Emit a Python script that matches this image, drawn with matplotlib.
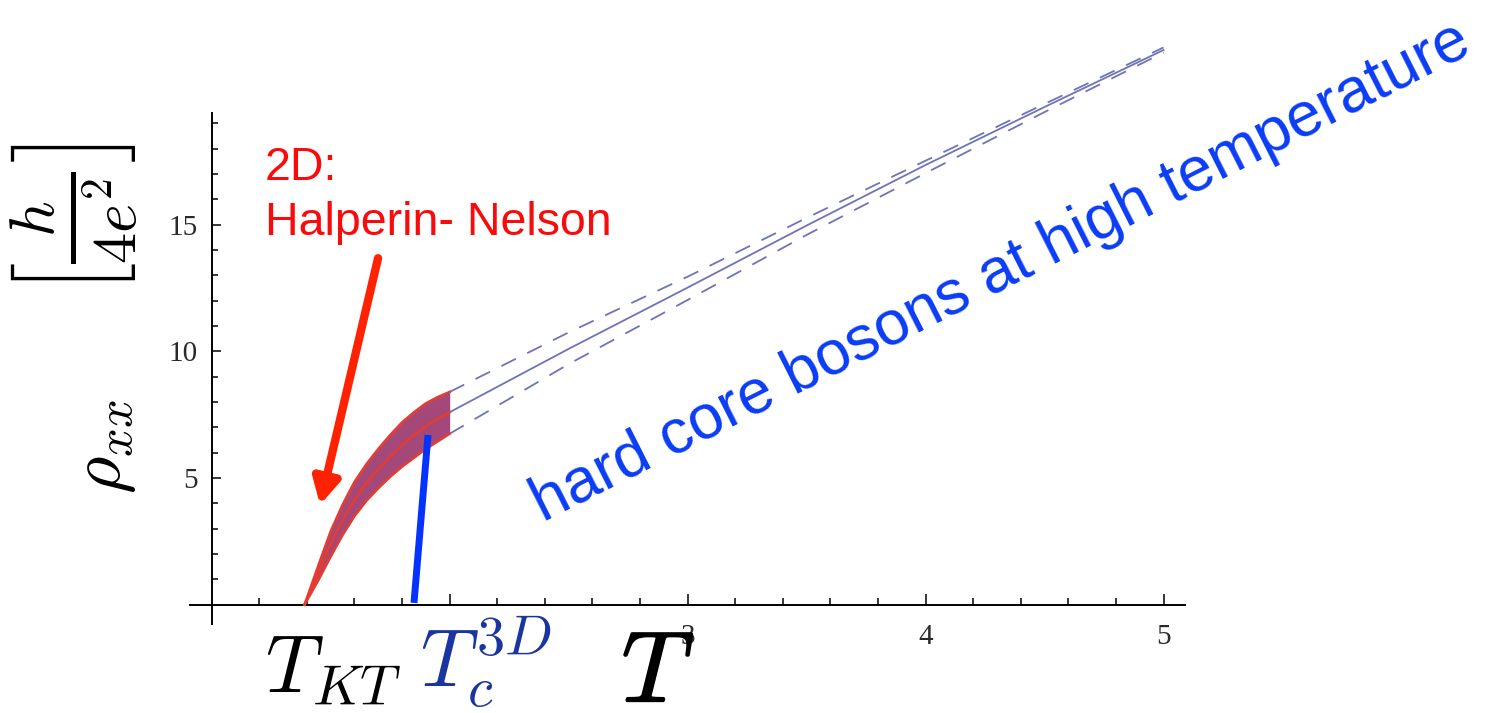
import matplotlib.pyplot as plt
import matplotlib.patheffects as pe
from matplotlib.ticker import FixedLocator

plt.rcParams['mathtext.fontset'] = 'cm'

# 2D: Halperin-Nelson band (T_KT .. 2)
T_2d = [1.39, 1.45, 1.50, 1.55, 1.60, 1.65, 1.70, 1.75, 1.80, 1.85, 1.90, 1.95, 2.00]
rho_2d = [0.0, 1.3, 2.4, 3.35, 4.15, 4.8, 5.35, 5.85, 6.3, 6.7, 7.05, 7.35, 7.6]
rho_2d_hi = [0.0, 1.6, 2.9, 3.95, 4.85, 5.55, 6.15, 6.7, 7.2, 7.6, 7.95, 8.2, 8.4]
rho_2d_lo = [0.0, 1.0, 1.9, 2.75, 3.5, 4.1, 4.6, 5.05, 5.45, 5.8, 6.15, 6.45, 6.75]

# hard core bosons at high temperature
T_hc = [2.0, 2.5, 3.0, 3.5, 4.0, 4.5, 5.0]
rho_hc = [7.6, 10.1, 12.52, 14.97, 17.36, 19.65, 21.9]
rho_hc_hi = [8.4, 10.75, 12.95, 15.27, 17.53, 19.77, 22.0]
rho_hc_lo = [6.75, 9.5, 12.03, 14.6, 17.04, 19.45, 21.8]

x_major = [2, 3, 4, 5]
x_major_labels = ['', '3', '4', '5']
y_major = [5, 10, 15]
y_major_labels = ['5', '10', '15']

W, H = 1506, 713


def px(x, y):
    # pixel position (top-left origin) -> figure fraction
    return x / W, 1 - y / H


fig = plt.figure(figsize=(W / 100, H / 100), dpi=100)
ax = fig.add_axes([190.3 / W, (H - 623.7) / H, 994.7 / W, 510.4 / H])
ax.set_xlim(0.91, 5.09)
ax.set_ylim(-0.75, 19.4)

# Mathematica-like axes crossing at (1, 0)
for s in ['top', 'right']:
    ax.spines[s].set_visible(False)
ax.spines['left'].set_position(('data', 1))
ax.spines['bottom'].set_position(('data', 0))
for s in ['left', 'bottom']:
    ax.spines[s].set_linewidth(1.4)

ax.xaxis.set_major_locator(FixedLocator(x_major))
ax.set_xticklabels(x_major_labels)
ax.xaxis.set_minor_locator(FixedLocator([1 + 0.2 * i for i in range(1, 20) if i % 5]))
ax.yaxis.set_major_locator(FixedLocator(y_major))
ax.set_yticklabels(y_major_labels)
ax.yaxis.set_minor_locator(FixedLocator([i for i in range(1, 20) if i % 5]))
ax.tick_params(axis='x', which='major', direction='in', length=8, width=1.1, pad=14,
               labelsize=21, labelcolor='#2a2a2a')
ax.tick_params(axis='x', which='minor', direction='in', length=5, width=1.1)
ax.tick_params(axis='y', which='major', direction='in', length=6.5, width=1.1, pad=10,
               labelsize=21, labelcolor='#2a2a2a')
ax.tick_params(axis='y', which='minor', direction='in', length=4, width=1.1)
for lab in ax.get_xticklabels() + ax.get_yticklabels():
    lab.set_family('Liberation Serif')

# red band
ax.fill_between(T_2d, rho_2d_lo, rho_2d_hi, color='#a4487a', lw=0, zorder=2)
for r in (rho_2d_lo, rho_2d, rho_2d_hi):
    ax.plot(T_2d, r, color='#e63b2e', lw=1.8, zorder=3)

# blue lines
ax.plot(T_hc, rho_hc, color='#6f73b8', lw=1.3, clip_on=False, zorder=2)
for r in (rho_hc_hi, rho_hc_lo):
    ax.plot(T_hc, r, color='#6f73b8', lw=1.3, ls=(0, (9, 7)), clip_on=False, zorder=2)

# arrow to 2D band
ax.annotate('', xy=(1.455, 3.94), xytext=(1.699, 13.68),
            arrowprops=dict(arrowstyle='-|>,head_width=0.8,head_length=1.5',
                            color='#ff2200', lw=6, shrinkA=0, shrinkB=0),
            zorder=5)
# marker for Tc 3D
ax.plot([1.85, 1.909], [0.07, 6.7], color='#0433ff', lw=5, solid_capstyle='butt', zorder=5)

fig.text(*px(265, 180), '2D:', color='#fa0a0a', fontsize=33.5,
         family='Liberation Sans', va='baseline')
fig.text(*px(265, 235), 'Halperin- Nelson', color='#fa0a0a', fontsize=33.5,
         family='Liberation Sans', va='baseline')

fig.text(*px(543, 522), 'hard core bosons at high temperature', color='#0a3cf5',
         fontsize=45, family='Liberation Sans', rotation=26.8,
         rotation_mode='anchor', ha='left', va='baseline')

# axis labels
fig.text(*px(104, 447), r'$\rho_{xx}$', fontsize=52, rotation=90, ha='center', va='center')
fig.text(*px(75, 220), r'$\left[\frac{h}{4e^2}\right]$', fontsize=64, rotation=90,
         ha='center', va='center')
fig.text(*px(333, 670), r'$T_{KT}$', fontsize=58, ha='center', va='center')
fig.text(*px(486, 662), r'$T_c^{3D}$', fontsize=58, color='#1a35a0', ha='center', va='center')
fig.text(*px(658, 702), r'$T$', fontsize=72, ha='center', va='baseline',
         path_effects=[pe.withStroke(linewidth=1.2, foreground='black')])

fig.savefig('out.png', dpi=100)
